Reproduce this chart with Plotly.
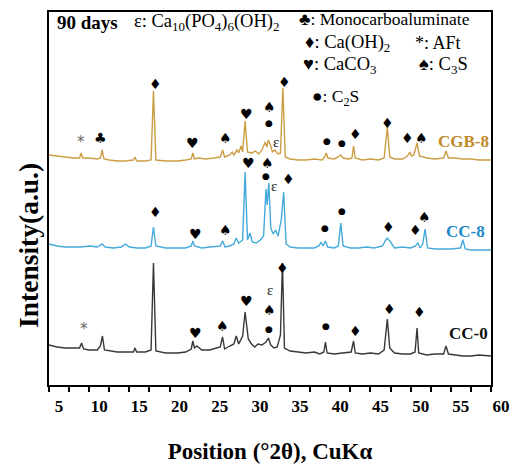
import plotly.graph_objects as go

# ---- XRD patterns (2θ in degrees, intensity above each pattern's own baseline, a.u.) ----
cgb8_theta = [5.0, 6.0, 7.0, 8.0, 8.8, 9.0, 9.2, 10.0, 11.0, 11.4, 11.6, 11.85, 12.5, 13.5, 14.5, 15.5, 15.7, 15.9,
              17.0, 17.7, 18.0, 18.3, 19.5, 21.0, 22.0, 22.7, 22.9, 23.1, 23.6, 24.5, 25.5, 26.3, 26.6, 26.85,
              27.5, 27.8, 28.0, 28.4, 28.6, 28.9, 29.1, 29.4, 29.7, 30.2, 30.7, 31.1, 31.5, 31.9, 32.1, 32.3,
              32.55, 32.8, 33.1, 33.5, 33.8, 34.1, 34.4, 35.0, 36.0, 37.0, 38.0, 39.0, 39.3, 39.5, 39.7, 40.5,
              41.0, 41.3, 41.6, 42.3, 42.7, 42.9, 43.1, 44.0, 45.0, 46.0, 46.7, 47.1, 47.4, 48.0, 49.0, 49.6,
              49.9, 50.1, 50.4, 50.8, 51.1, 52.0, 53.0, 54.1, 54.4, 54.7, 55.5, 56.5, 57.5, 58.5, 60.0]
cgb8_int = [6, 5, 4, 3, 3, 8, 3, 3, 2, 3, 11, 2, 1, 0, 0, 1, 4, 0,
            0, 1, 70, 1, 0, 0, 1, 2, 8, 2, 3, 2, 3, 4, 11, 4,
            6, 9, 6, 11, 8, 15, 9, 40, 9, 8, 10, 7, 11, 19, 14, 21,
            16, 9, 11, 7, 8, 73, 4, 2, 1, 1, 2, 1, 4, 8, 3, 2,
            4, 6, 3, 2, 3, 15, 3, 1, 2, 1, 3, 34, 4, 2, 2, 5,
            9, 5, 6, 18, 5, 3, 2, 3, 10, 3, 3, 2, 2, 1, 1]

cc8_theta = [5.0, 6.0, 7.0, 8.0, 9.0, 10.0, 11.0, 11.6, 12.0, 13.0, 14.0, 14.5, 15.0, 16.0, 17.0, 17.7, 18.0, 18.3,
             19.5, 21.0, 22.0, 22.7, 22.9, 23.1, 24.0, 25.0, 26.3, 26.6, 26.9, 27.5, 28.0, 28.3, 28.6, 29.1,
             29.4, 29.7, 30.0, 30.3, 30.8, 31.3, 31.7, 32.0, 32.15, 32.35, 32.6, 32.9, 33.2, 33.5, 33.9, 34.2,
             34.5, 35.0, 36.0, 37.0, 38.0, 38.6, 38.85, 39.1, 39.4, 39.7, 40.5, 41.0, 41.3, 41.6, 42.5, 43.5,
             44.5, 45.5, 46.5, 46.9, 47.1, 47.5, 48.0, 49.0, 50.0, 50.6, 50.9, 51.2, 51.5, 51.8, 52.1, 53.0,
             54.0, 55.0, 56.2, 56.5, 56.8, 57.5, 58.5, 60.0]
cc8_int = [6, 4, 3, 3, 3, 4, 3, 6, 3, 2, 3, 6, 3, 2, 2, 4, 23, 4,
           2, 2, 2, 4, 9, 4, 2, 3, 4, 9, 3, 4, 6, 12, 7, 10,
           78, 10, 17, 8, 7, 10, 14, 61, 45, 67, 22, 16, 20, 14, 30, 58,
           6, 3, 2, 2, 2, 4, 8, 4, 9, 3, 2, 4, 27, 4, 2, 2,
           3, 2, 4, 10, 12, 8, 2, 3, 2, 4, 7, 2, 6, 21, 2, 1,
           1, 1, 2, 10, 1, 0, 0, 0]

cc0_theta = [5.0, 6.0, 7.0, 8.0, 8.8, 9.05, 9.3, 10.0, 11.0, 11.4, 11.65, 11.9, 12.5, 13.5, 14.5, 15.5, 15.7, 15.9,
             17.0, 17.7, 18.0, 18.3, 19.5, 21.0, 22.0, 22.7, 22.9, 23.1, 23.4, 24.0, 25.0, 26.3, 26.6, 26.85,
             27.5, 28.0, 28.3, 28.6, 29.1, 29.4, 29.8, 30.2, 30.6, 31.0, 31.5, 32.0, 32.3, 32.6, 33.0, 33.4,
             33.8, 34.05, 34.3, 35.0, 36.0, 37.0, 38.0, 38.7, 39.2, 39.4, 39.6, 40.5, 41.5, 42.6, 42.9, 43.1,
             44.0, 45.0, 46.0, 46.7, 47.1, 47.4, 48.0, 49.0, 50.0, 50.55, 50.8, 51.0, 52.0, 53.0, 54.1, 54.4,
             54.7, 55.5, 56.5, 57.5, 58.5, 60.0]
cc0_int = [11, 9, 8, 8, 8, 13, 7, 6, 6, 10, 20, 6, 5, 4, 4, 4, 8, 4,
           4, 6, 93, 5, 3, 3, 4, 7, 15, 8, 10, 6, 6, 9, 19, 7,
           10, 12, 20, 12, 20, 44, 17, 12, 9, 12, 11, 14, 18, 11, 8, 9,
           21, 93, 8, 5, 4, 3, 4, 2, 4, 14, 3, 2, 3, 4, 15, 3,
           2, 3, 2, 6, 37, 8, 3, 2, 2, 4, 28, 3, 1, 2, 2, 10,
           2, 1, 0, 0, 1, 0]

sample_names = ["CGB-8", "CC-8", "CC-0"]
stack_offsets = {"CGB-8": 224, "CC-8": 135, "CC-0": 29}
line_colors = {"CGB-8": "#CB9D45", "CC-8": "#45AADB", "CC-0": "#383838"}
label_colors = {"CGB-8": "#C0892B", "CC-8": "#1C88C8", "CC-0": "#111111"}
patterns = {"CGB-8": (cgb8_theta, cgb8_int), "CC-8": (cc8_theta, cc8_int), "CC-0": (cc0_theta, cc0_int)}

# Phase symbols drawn above the reflections: (symbol, 2θ, stacked height)
phase_marks = [
    # CGB-8
    ("*", 9.04, 243), ("♣", 11.45, 247), ("♦", 18.2, 301), ("♥", 22.9, 242), ("♠", 26.9, 247),
    ("♥", 29.6, 271), ("♠", 32.4, 278), ("●", 32.4, 262), ("ε", 33.25, 243), ("♦", 34.3, 303),
    ("●", 39.6, 244), ("●", 41.5, 242), ("♦", 43.1, 251), ("♦", 47.15, 262), ("♦", 49.6, 247),
    ("♠", 51.35, 247),
    # CC-8
    ("♦", 18.2, 173), ("♥", 23.2, 151), ("♠", 26.9, 155), ("♥", 29.8, 222), ("♠", 32.2, 222),
    ("●", 32.0, 209), ("ε", 33.05, 199), ("♦", 34.8, 206), ("●", 39.3, 157), ("●", 41.5, 174),
    ("♦", 47.2, 158), ("♦", 50.55, 155), ("♠", 51.75, 168),
    # CC-0
    ("*", 9.3, 56), ("♥", 23.2, 52), ("♠", 26.6, 59), ("♥", 29.6, 84), ("ε", 32.5, 95),
    ("♠", 32.4, 75), ("●", 32.4, 56), ("♦", 34.0, 117), ("●", 39.5, 59), ("♦", 43.2, 54),
    ("♦", 47.35, 76), ("♦", 51.1, 73),
]

# Sample name labels: (name, 2θ, stacked height)
sample_labels = [("CGB-8", 56.6, 244), ("CC-8", 56.8, 154), ("CC-0", 57.15, 52)]

# Key text in the upper part of the frame: (text, 2θ of left edge, height, bold, size)
key_texts = [
    ("90 days", 5.75, 363, True, 19),
    ("ε: Ca<sub>10</sub>(PO<sub>4</sub>)<sub>6</sub>(OH)<sub>2</sub>", 15.35, 363, False, 18.5),
    ("♣: Monocarboaluminate", 35.9, 366, False, 17.5),
    ("♦: Ca(OH)<sub>2</sub>", 36.6, 342, False, 18.5),
    ("*: AFt", 50.3, 342, False, 18),
    ("♥: CaCO<sub>3</sub>", 36.3, 320, False, 18.5),
    ("♠: C<sub>3</sub>S", 50.8, 320, False, 18.5),
    ("●: C<sub>2</sub>S", 37.5, 288, False, 17.5),
]

SERIF = "Liberation Serif, Times New Roman, serif"

fig = go.Figure()
for name in sample_names:
    th, inten = patterns[name]
    off = stack_offsets[name]
    fig.add_trace(go.Scatter(
        x=th, y=[v + off for v in inten], mode="lines",
        line=dict(color=line_colors[name], width=1.4),
        name=name, showlegend=False, hoverinfo="skip",
    ))

annotations = []
for sym, th, h in phase_marks:
    if sym == "*":
        font = dict(family="DejaVu Sans", size=15, color="#666666")
    elif sym == "ε":
        font = dict(family=SERIF, size=15, color="#222222")
    elif sym == "●":
        font = dict(family="DejaVu Sans", size=9, color="black")
    else:
        font = dict(family="DejaVu Sans", size=14, color="black")
    annotations.append(dict(x=th, y=h, xref="x", yref="y", text=sym, showarrow=False,
                            font=font, xanchor="center", yanchor="middle"))

for name, th, h in sample_labels:
    annotations.append(dict(x=th, y=h, xref="x", yref="y", text="<b>%s</b>" % name, showarrow=False,
                            font=dict(family=SERIF, size=17, color=label_colors[name]),
                            xanchor="center", yanchor="middle"))

for txt, th, h, bold, size in key_texts:
    annotations.append(dict(x=th, y=h, xref="x", yref="y",
                            text=("<b>%s</b>" % txt) if bold else txt, showarrow=False,
                            font=dict(family=SERIF, size=size, color="black"),
                            xanchor="left", yanchor="middle"))

annotations.append(dict(x=-0.048, y=0.375, xref="paper", yref="paper", text="<b>Intensity(a.u.)</b>",
                        textangle=-90, showarrow=False,
                        font=dict(family=SERIF, size=27.5, color="black"),
                        xanchor="center", yanchor="middle"))

fig.update_layout(
    width=516, height=464,
    margin=dict(l=49, r=25, t=12, b=79),
    paper_bgcolor="white", plot_bgcolor="white",
    annotations=annotations,
    xaxis=dict(
        range=[5, 60], tickmode="array", tickvals=list(range(5, 61, 5)),
        ticktext=[str(v) for v in range(5, 61, 5)],
        ticks="outside", ticklen=5, tickwidth=2, tickcolor="black",
        minor=dict(ticks="outside", ticklen=5, tickwidth=2, tickcolor="black", dtick=2.5, tick0=5),
        ticklabelshift=10,
        tickfont=dict(family=SERIF, size=17, color="black", weight="bold"),
        showline=True, linecolor="black", linewidth=2, mirror=True,
        showgrid=False, zeroline=False, automargin=False,
        title=dict(text="<b>Position (°2θ), CuKα</b>",
                   font=dict(family=SERIF, size=23, color="black"), standoff=27),
    ),
    yaxis=dict(
        range=[0, 373], showticklabels=False, ticks="",
        showline=True, linecolor="black", linewidth=2, mirror=True,
        showgrid=False, zeroline=False, automargin=False,
    ),
)

fig.write_html("out.html")
